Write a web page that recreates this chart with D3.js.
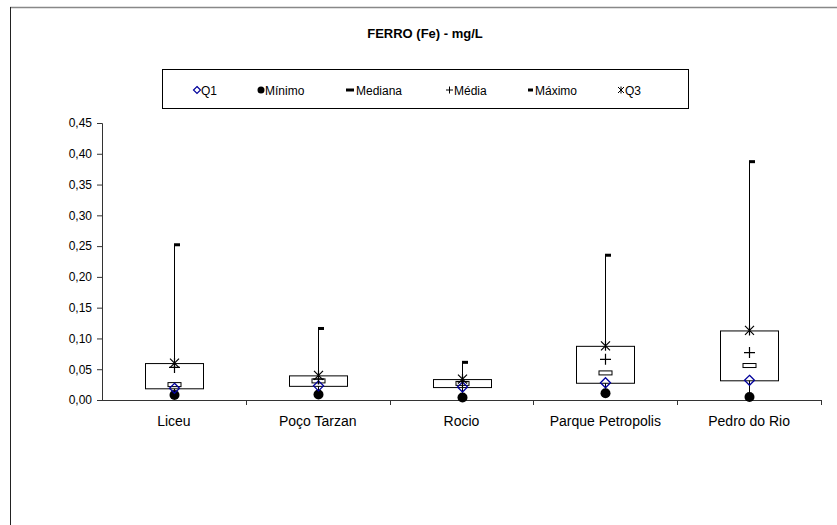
<!DOCTYPE html>
<html><head><meta charset="utf-8">
<script src="https://cdn.jsdelivr.net/npm/d3@7"></script>
<style>body{margin:0;background:#fff}svg{display:block;font-family:"Liberation Sans",Arial,sans-serif}</style>
</head><body><svg id="c" width="837" height="525"></svg>
<script>
const categories = ["Liceu","Poço Tarzan","Rocio","Parque Petropolis","Pedro do Rio"];
const minimo  = [0.008, 0.009, 0.004, 0.011, 0.005];
const q1      = [0.019, 0.023, 0.021, 0.028, 0.032];
const mediana = [0.025, 0.031, 0.027, 0.044, 0.056];
const media   = [0.053, 0.034, 0.030, 0.066, 0.077];
const q3      = [0.060, 0.040, 0.034, 0.088, 0.113];
const maximo  = [0.253, 0.117, 0.062, 0.236, 0.388];
const yTicks  = [0,0.05,0.10,0.15,0.20,0.25,0.30,0.35,0.40,0.45];
const legendItems = ["Q1","Mínimo","Mediana","Média","Máximo","Q3"];

const svg = d3.select("#c");
// outer frame
svg.append("line").attr("x1",10).attr("x2",837).attr("y1",7.5).attr("y2",7.5).attr("stroke","#888").attr("stroke-width",1.5);
svg.append("line").attr("x1",10.5).attr("x2",10.5).attr("y1",7).attr("y2",525).attr("stroke","#222").attr("stroke-width",1);

svg.append("text").attr("x",425).attr("y",38).attr("text-anchor","middle")
  .attr("font-weight","bold").attr("font-size",13).text("FERRO (Fe) - mg/L");

const x = d3.scaleBand().domain(categories).range([102,821]).paddingInner(0).paddingOuter(0);
const y = d3.scaleLinear().domain([0,0.45]).range([400,123]);
const fmt = d => d3.format(".2f")(d).replace(".",",");

// y axis
const ya = svg.append("g").attr("transform","translate(102,0)")
  .call(d3.axisLeft(y).tickValues(yTicks).tickFormat(fmt).tickSize(5).tickPadding(5));
ya.selectAll("path,line").attr("stroke","#333");
ya.selectAll("text").attr("font-size",12).attr("fill","#000").attr("font-family","Liberation Sans, Arial");
// x axis
svg.append("line").attr("x1",102).attr("x2",821).attr("y1",400.5).attr("y2",400.5).attr("stroke","#333");
const bounds = categories.map(c=>x(c)).concat([821]);
svg.selectAll(".xt").data(bounds.slice(1)).enter().append("line")
  .attr("x1",d=>Math.round(d)+0.5).attr("x2",d=>Math.round(d)+0.5).attr("y1",400).attr("y2",405).attr("stroke","#333");
svg.selectAll(".xl").data(categories).enter().append("text")
  .attr("x",d=>x(d)+x.bandwidth()/2).attr("y",426).attr("text-anchor","middle")
  .attr("font-size",14).text(d=>d);

const bw = 58;
const g = svg.selectAll(".cat").data(categories).enter().append("g")
  .attr("transform",d=>`translate(${Math.round(x(d)+x.bandwidth()/2)},0)`);
// whisker
g.append("line").attr("x1",0.5).attr("x2",0.5).attr("y1",(d,i)=>y(minimo[i])).attr("y2",(d,i)=>y(maximo[i])).attr("stroke","#000");
// box
g.append("rect").attr("x",-bw/2+0.5).attr("width",bw).attr("y",(d,i)=>y(q3[i])+0.5)
  .attr("height",(d,i)=>y(q1[i])-y(q3[i])).attr("fill","#fff").attr("stroke","#000");
// max cap
g.append("rect").attr("x",0).attr("width",6).attr("y",(d,i)=>y(maximo[i])-1).attr("height",3).attr("fill","#000");
// min dot
g.append("circle").attr("cx",0.5).attr("cy",(d,i)=>y(minimo[i])).attr("r",5).attr("fill","#000");
// median rect
g.append("rect").attr("x",-6).attr("width",13).attr("y",(d,i)=>y(mediana[i])-2).attr("height",4).attr("fill","#fff").attr("stroke","#000");
// Q1 diamond
g.append("path").attr("d",(d,i)=>{const c=y(q1[i]);return `M0.5,${c-5}L5.5,${c}L0.5,${c+5}L-4.5,${c}Z`;})
  .attr("fill","none").attr("stroke","#00009c").attr("stroke-width",1.3);
// mean plus
g.append("path").attr("d",(d,i)=>{const c=y(media[i]);return `M-5,${c}H6M0.5,${c-5.5}V${c+5.5}`;})
  .attr("stroke","#000").attr("stroke-width",1.2);
// Q3 star
g.append("path").attr("d",(d,i)=>{const c=y(q3[i]);return `M-4,${c-4.5}L5,${c+4.5}M5,${c-4.5}L-4,${c+4.5}M0.5,${c-5}V${c+5}`;})
  .attr("stroke","#000").attr("stroke-width",1.2);

// legend
svg.append("rect").attr("x",162.5).attr("y",69.5).attr("width",526).attr("height",39).attr("fill","#fff").attr("stroke","#000");
const lx = [197,261,352,450,531,621];
const lg = svg.selectAll(".lg").data(legendItems).enter().append("g").attr("transform",(d,i)=>`translate(${lx[i]},90)`);
lg.append("text").attr("x",4).attr("y",4.5).attr("font-size",12).text(d=>d);
lg.each(function(d,i){
  const s=d3.select(this);
  if(i===0) s.append("path").attr("d","M0,-3.5L3.5,0L0,3.5L-3.5,0Z").attr("fill","none").attr("stroke","#00009c").attr("stroke-width",1.2);
  if(i===1) s.append("circle").attr("r",3.5).attr("fill","#000");
  if(i===2) s.append("rect").attr("x",-6).attr("y",-1.5).attr("width",8).attr("height",3).attr("fill","#000");
  if(i===3) s.append("path").attr("d","M-4,0H3M-0.5,-3.5V3.5").attr("stroke","#000");
  if(i===4) s.append("rect").attr("x",-3).attr("y",-1.5).attr("width",5).attr("height",3).attr("fill","#000");
  if(i===5) s.append("path").attr("d","M-3,-3L3,3M3,-3L-3,3M0,-3.5V3.5").attr("stroke","#000");
});
</script></body></html>
